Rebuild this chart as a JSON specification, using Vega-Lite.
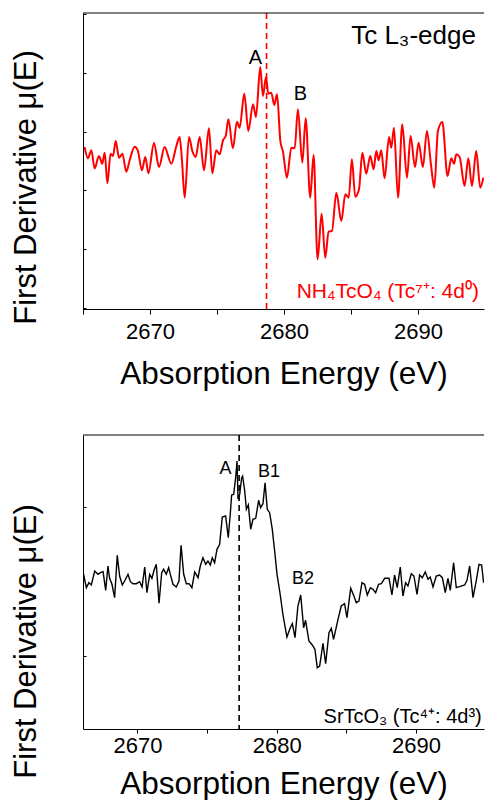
{
  "$schema": "https://vega.github.io/schema/vega-lite/v6.json",
  "padding": {"left": 10, "top": 12, "right": 0, "bottom": 0},
  "spacing": 44,
  "config": {
    "font": "Liberation Sans",
    "view": {"stroke": null},
    "axis": {"labelFont": "Liberation Sans", "titleFont": "Liberation Sans", "labelColor": "black", "titleColor": "black", "domainColor": "black", "tickColor": "black", "grid": false, "titleFontWeight": "normal"}
  },
  "datasets": {
    "top": [
      {"E":2665.12,"v":162},{"E":2665.37,"v":150.7},{"E":2665.62,"v":158.7},{"E":2665.87,"v":140.7},{"E":2666.19,"v":153},{"E":2666.44,"v":145.3},{"E":2666.62,"v":156.3},{"E":2666.82,"v":125.7},{"E":2667.06,"v":155.3},{"E":2667.24,"v":153},{"E":2667.44,"v":168},{"E":2667.69,"v":151.3},{"E":2667.94,"v":155.3},{"E":2668.23,"v":137.3},{"E":2668.48,"v":148.7},{"E":2668.86,"v":162.3},{"E":2669.10,"v":158},{"E":2669.40,"v":138.7},{"E":2669.65,"v":152},{"E":2669.88,"v":135.7},{"E":2670.30,"v":166},{"E":2670.67,"v":142},{"E":2671.09,"v":162},{"E":2671.59,"v":145.3},{"E":2671.97,"v":163},{"E":2672.21,"v":172},{"E":2672.39,"v":148},{"E":2672.59,"v":111.3},{"E":2672.91,"v":172},{"E":2673.16,"v":158},{"E":2673.41,"v":152},{"E":2673.71,"v":172},{"E":2674.03,"v":138.7},{"E":2674.40,"v":180.7},{"E":2674.65,"v":135.7},{"E":2674.95,"v":158.7},{"E":2675.20,"v":154.7},{"E":2675.45,"v":168.7},{"E":2675.65,"v":173},{"E":2675.85,"v":189.7},{"E":2676.19,"v":160.7},{"E":2676.49,"v":187.3},{"E":2676.69,"v":181.3},{"E":2677.04,"v":215.3},{"E":2677.34,"v":178},{"E":2677.69,"v":204.7},{"E":2677.91,"v":192},{"E":2678.23,"v":242},{"E":2678.43,"v":213},{"E":2678.66,"v":232},{"E":2678.83,"v":215.3},{"E":2679.05,"v":216.3},{"E":2679.28,"v":204},{"E":2679.48,"v":214.7},{"E":2679.73,"v":168},{"E":2679.93,"v":157},
      {"E":2680.22,"v":131.3},{"E":2680.55,"v":161.3},{"E":2680.80,"v":160.7},{"E":2681.04,"v":199.7},{"E":2681.37,"v":146.3},{"E":2681.62,"v":190.7},{"E":2681.96,"v":111.3},{"E":2682.21,"v":154},{"E":2682.51,"v":49.7},{"E":2682.81,"v":95.3},{"E":2683.08,"v":51.3},{"E":2683.33,"v":77.3},{"E":2683.58,"v":78},{"E":2683.91,"v":116.3},{"E":2684.28,"v":88},{"E":2684.58,"v":114.7},{"E":2684.83,"v":111.3},{"E":2685.07,"v":149.7},{"E":2685.32,"v":112.3},{"E":2685.60,"v":119.7},{"E":2685.85,"v":156.3},{"E":2686.14,"v":135.3},{"E":2686.44,"v":153},{"E":2686.69,"v":139.7},{"E":2686.89,"v":158},{"E":2687.06,"v":148.7},{"E":2687.26,"v":158.7},{"E":2687.51,"v":130.7},{"E":2687.84,"v":172},{"E":2688.01,"v":161.3},{"E":2688.21,"v":181.3},{"E":2688.51,"v":111.3},{"E":2688.83,"v":184.7},{"E":2689.18,"v":131.3},{"E":2689.45,"v":173},{"E":2689.78,"v":142},{"E":2690.05,"v":166.3},{"E":2690.37,"v":142},{"E":2690.67,"v":178},{"E":2690.97,"v":144.7},{"E":2691.22,"v":121.3},{"E":2691.49,"v":178},{"E":2691.82,"v":187},{"E":2692.21,"v":133},{"E":2692.49,"v":150.7},{"E":2692.69,"v":145.3},{"E":2692.86,"v":154.7},{"E":2693.11,"v":152},{"E":2693.48,"v":123},{"E":2693.76,"v":150.7},{"E":2694.03,"v":123},{"E":2694.35,"v":158},{"E":2694.65,"v":121.3},{"E":2694.88,"v":131.3}
    ],
    "bottom": [
      {"E":2666.09,"v":157.3},{"E":2666.33,"v":141.3},{"E":2666.52,"v":146.3},{"E":2666.69,"v":144},{"E":2666.93,"v":158},{"E":2667.17,"v":154.7},{"E":2667.33,"v":156.3},{"E":2667.53,"v":157.3},{"E":2667.72,"v":138.7},{"E":2667.88,"v":163},{"E":2668.00,"v":150.7},{"E":2668.17,"v":144.7},{"E":2668.36,"v":131.3},{"E":2668.55,"v":173.7},{"E":2668.72,"v":153},{"E":2668.91,"v":144},{"E":2669.08,"v":148},{"E":2669.32,"v":154.7},{"E":2669.49,"v":147.3},{"E":2669.68,"v":145.3},{"E":2669.92,"v":145.3},{"E":2670.16,"v":147.3},{"E":2670.33,"v":142},{"E":2670.52,"v":162},{"E":2670.68,"v":136.3},{"E":2670.88,"v":154.7},{"E":2671.04,"v":150.7},{"E":2671.19,"v":158.7},{"E":2671.35,"v":164.7},{"E":2671.55,"v":125.7},{"E":2671.74,"v":156.3},{"E":2671.88,"v":159.7},{"E":2672.07,"v":154.7},{"E":2672.24,"v":161.3},{"E":2672.36,"v":154.7},{"E":2672.55,"v":144.7},{"E":2672.79,"v":142},{"E":2672.98,"v":148},{"E":2673.13,"v":183.7},{"E":2673.32,"v":154.7},{"E":2673.51,"v":145.3},{"E":2673.70,"v":145.3},{"E":2673.91,"v":141.3},{"E":2674.11,"v":157},{"E":2674.35,"v":151.3},{"E":2674.51,"v":163},{"E":2674.70,"v":171.3},{"E":2674.90,"v":164.7},{"E":2675.06,"v":168},{"E":2675.23,"v":164},{"E":2675.37,"v":171.3},{"E":2675.54,"v":166.3},{"E":2675.71,"v":179.7},{"E":2675.90,"v":184.7},{"E":2676.09,"v":212},{"E":2676.33,"v":213},{"E":2676.52,"v":191.3},{"E":2676.69,"v":219.7},{"E":2676.76,"v":234},{"E":2676.91,"v":234.7},{"E":2677.05,"v":251.3},{"E":2677.15,"v":268},{"E":2677.22,"v":229.7},{"E":2677.34,"v":234.7},{"E":2677.48,"v":251.3},{"E":2677.55,"v":253},{"E":2677.70,"v":238},{"E":2677.82,"v":219.7},{"E":2677.96,"v":224},{"E":2678.13,"v":199.7},{"E":2678.29,"v":209.7},{"E":2678.49,"v":210.7},{"E":2678.70,"v":228.7},{"E":2678.84,"v":221.3},{"E":2679.01,"v":225.3},{"E":2679.16,"v":246.3},{"E":2679.32,"v":219.7},{"E":2679.49,"v":216.3},{"E":2679.68,"v":199.7},{"E":2679.85,"v":178},{"E":2680.02,"v":154.7},{"E":2680.21,"v":138},{"E":2680.45,"v":114},
      {"E":2680.73,"v":92},{"E":2680.97,"v":101.3},{"E":2681.12,"v":105.3},{"E":2681.31,"v":91.3},{"E":2681.52,"v":123},{"E":2681.72,"v":134},{"E":2681.93,"v":101.3},{"E":2682.07,"v":108.7},{"E":2682.31,"v":88},{"E":2682.55,"v":84},{"E":2682.74,"v":79.7},{"E":2682.91,"v":61.3},{"E":2683.08,"v":63},{"E":2683.32,"v":85.7},{"E":2683.51,"v":65.3},{"E":2683.75,"v":96.3},{"E":2683.92,"v":100.7},{"E":2684.08,"v":89.7},{"E":2684.40,"v":109.7},{"E":2684.63,"v":123},{"E":2684.87,"v":125.3},{"E":2685.04,"v":111.3},{"E":2685.31,"v":140.7},{"E":2685.54,"v":133},{"E":2685.71,"v":126.3},{"E":2685.90,"v":128},{"E":2686.12,"v":146.3},{"E":2686.31,"v":144.7},{"E":2686.50,"v":134},{"E":2686.72,"v":141.3},{"E":2686.91,"v":139.7},{"E":2687.10,"v":136.3},{"E":2687.31,"v":144.7},{"E":2687.51,"v":145.3},{"E":2687.75,"v":150.7},{"E":2688.06,"v":150.7},{"E":2688.27,"v":134},{"E":2688.46,"v":154},{"E":2688.65,"v":141.3},{"E":2688.87,"v":162},{"E":2689.06,"v":133},{"E":2689.25,"v":146.3},{"E":2689.42,"v":143},{"E":2689.66,"v":155.3},{"E":2689.85,"v":153},{"E":2690.07,"v":134.7},{"E":2690.26,"v":154},{"E":2690.45,"v":151.3},{"E":2690.66,"v":157},{"E":2690.86,"v":149.7},{"E":2691.02,"v":152},{"E":2691.22,"v":142},{"E":2691.45,"v":153},{"E":2691.69,"v":154},{"E":2691.89,"v":151.3},{"E":2692.10,"v":136.3},{"E":2692.29,"v":150.7},{"E":2692.46,"v":138.7},{"E":2692.70,"v":166.3},{"E":2692.89,"v":141.3},{"E":2693.13,"v":142.3},{"E":2693.49,"v":144},{"E":2693.66,"v":148.7},{"E":2693.85,"v":163},{"E":2694.09,"v":131.3},{"E":2694.33,"v":148.7},{"E":2694.52,"v":164.7},{"E":2694.71,"v":164},{"E":2694.85,"v":146.3}
    ]
  },
  "vconcat": [
    {
      "width": 401,
      "height": 296,
      "layer": [
        {
          "data": {"name": "top"},
          "mark": {"type": "line", "color": "#ff0000", "strokeWidth": 2, "interpolate": "monotone", "clip": true},
          "encoding": {
            "x": {"field": "E", "type": "quantitative", "scale": {"domain": [2665, 2694.93], "nice": false, "zero": false},
              "axis": {"values": [2665, 2670, 2675, 2680, 2685, 2690], "format": "d", "labelExpr": "datum.value % 10 == 0 ? datum.label : ''", "title": "Absorption Energy (eV)", "titleFontSize": 31.5, "labelFontSize": 22, "tickSize": 5, "labelPadding": 7, "titlePadding": 16, "labelFlush": false}},
            "y": {"field": "v", "type": "quantitative", "scale": {"domain": [0, 296], "nice": false, "zero": false},
              "axis": {"labels": false, "values": [1.1, 15.8, 30.5, 45.2, 59.9, 74.6, 89.3, 104, 118.7, 133.4, 148.1, 162.8, 177.5, 192.2, 206.9, 221.6, 236.3, 251, 265.7, 280.4, 295.1], "tickSize": -3, "title": "First Derivative μ(E)", "titleFontSize": 31, "titleX": -48, "titleY": 174, "titleBaseline": "alphabetic"}}
          }
        },
        {
          "data": {"values": [{"E": 2678.7}]},
          "mark": {"type": "rule", "color": "#ff0000", "strokeWidth": 1.6, "strokeDash": [6, 4]},
          "encoding": {"x": {"field": "E", "type": "quantitative"}}
        },
        {
          "data": {"values": [{"v": 296}]},
          "mark": {"type": "rule", "color": "black", "strokeWidth": 1},
          "encoding": {"y": {"field": "v", "type": "quantitative"}}
        },
        {
          "data": {"values": [{"E": 2677.87, "v": 245.3, "t": "A"}, {"E": 2681.23, "v": 209, "t": "B"}]},
          "mark": {"type": "text", "fontSize": 20, "align": "center", "baseline": "alphabetic", "color": "black"},
          "encoding": {"x": {"field": "E", "type": "quantitative"}, "y": {"field": "v", "type": "quantitative"}, "text": {"field": "t"}}
        },
        {
          "data": {"values": [{"E": 2694.33, "v": 265, "t": "Tc L₃-edge"}]},
          "mark": {"type": "text", "fontSize": 26, "align": "right", "baseline": "alphabetic", "color": "black"},
          "encoding": {"x": {"field": "E", "type": "quantitative"}, "y": {"field": "v", "type": "quantitative"}, "text": {"field": "t"}}
        },
        {
          "data": {"values": [{"E": 2694.55, "v": 11.3, "t": "NH₄TcO₄ (Tc⁷⁺: 4d⁰)"}]},
          "mark": {"type": "text", "fontSize": 21, "align": "right", "baseline": "alphabetic", "color": "#ff0000"},
          "encoding": {"x": {"field": "E", "type": "quantitative"}, "y": {"field": "v", "type": "quantitative"}, "text": {"field": "t"}}
        }
      ]
    },
    {
      "width": 401,
      "height": 294,
      "layer": [
        {
          "data": {"name": "bottom"},
          "mark": {"type": "line", "color": "black", "strokeWidth": 1.4, "clip": true},
          "encoding": {
            "x": {"field": "E", "type": "quantitative", "scale": {"domain": [2666.09, 2694.88], "nice": false, "zero": false},
              "axis": {"values": [2670, 2675, 2680, 2685, 2690], "format": "d", "labelExpr": "datum.value % 10 == 0 ? datum.label : ''", "title": "Absorption Energy (eV)", "titleFontSize": 31.5, "labelFontSize": 22, "tickSize": 4, "labelPadding": 2, "titlePadding": 12, "labelFlush": false}},
            "y": {"field": "v", "type": "quantitative", "scale": {"domain": [0, 294], "nice": false, "zero": false},
              "axis": {"labels": false, "values": [73, 222.5], "tickSize": -3, "title": "First Derivative μ(E)", "titleFontSize": 31, "titleX": -48, "titleY": 206, "titleBaseline": "alphabetic"}}
          }
        },
        {
          "data": {"values": [{"E": 2677.3}]},
          "mark": {"type": "rule", "color": "black", "strokeWidth": 1.6, "strokeDash": [6, 4]},
          "encoding": {"x": {"field": "E", "type": "quantitative"}}
        },
        {
          "data": {"values": [{"v": 294}]},
          "mark": {"type": "rule", "color": "black", "strokeWidth": 1},
          "encoding": {"y": {"field": "v", "type": "quantitative"}}
        },
        {
          "data": {"values": [{"E": 2676.32, "v": 255, "t": "A"}, {"E": 2679.44, "v": 252.3, "t": "B1"}, {"E": 2681.88, "v": 145, "t": "B2"}]},
          "mark": {"type": "text", "fontSize": 18, "align": "center", "baseline": "alphabetic", "color": "black"},
          "encoding": {"x": {"field": "E", "type": "quantitative"}, "y": {"field": "v", "type": "quantitative"}, "text": {"field": "t"}}
        },
        {
          "data": {"values": [{"E": 2694.72, "v": 6.3, "t": "SrTcO₃ (Tc⁴⁺: 4d³)"}]},
          "mark": {"type": "text", "fontSize": 20, "align": "right", "baseline": "alphabetic", "color": "black"},
          "encoding": {"x": {"field": "E", "type": "quantitative"}, "y": {"field": "v", "type": "quantitative"}, "text": {"field": "t"}}
        }
      ]
    }
  ]
}
